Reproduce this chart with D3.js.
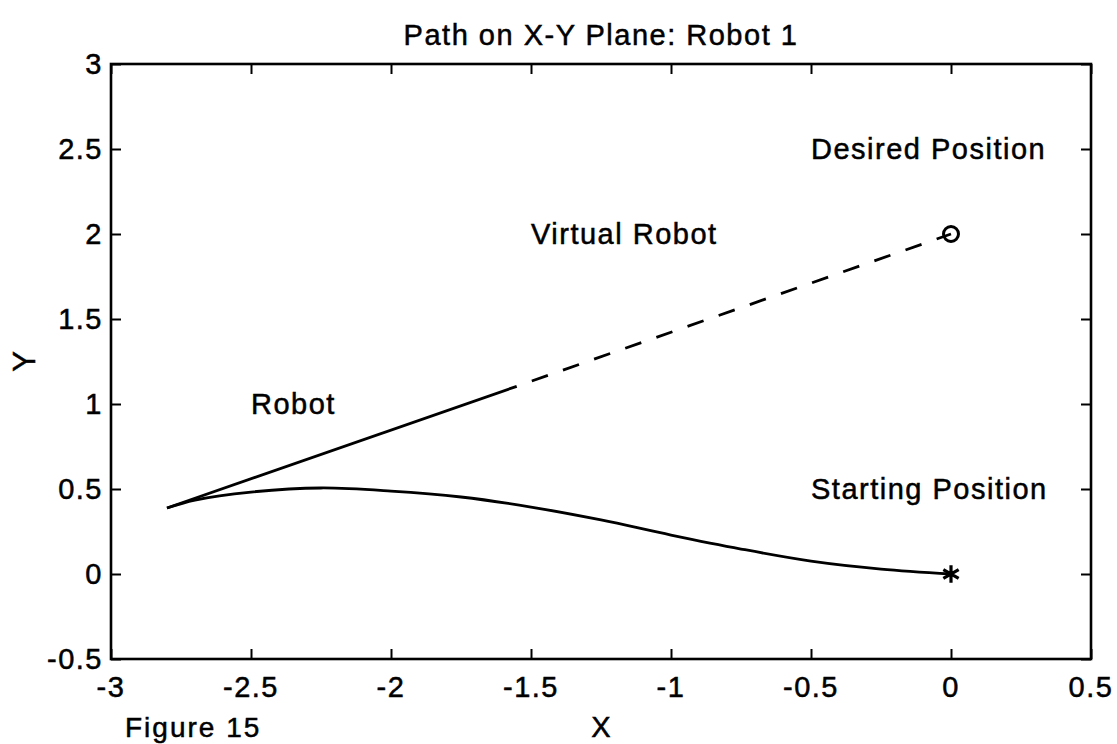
<!DOCTYPE html>
<html>
<head>
<meta charset="utf-8">
<script src="https://cdn.jsdelivr.net/npm/d3@7"></script>
<style>
  body { margin: 0; background: #fff; }
  text { font-family: "Liberation Sans", Arial, Helvetica, sans-serif; fill: #000; stroke: #000; stroke-width: 0.5px; }
</style>
</head>
<body>
<svg id="plot" width="1117" height="744"></svg>
<script>
// robot path (solid curve)
var robotX = [-2.80, -2.70, -2.50, -2.25, -2.00, -1.75, -1.50, -1.25, -1.00, -0.75, -0.50, -0.25, 0];
var robotY = [0.388, 0.435, 0.482, 0.506, 0.488, 0.453, 0.394, 0.318, 0.229, 0.147, 0.076, 0.029, 0];

// virtual robot, travelled part (solid) and remaining part (dashed)
var virtualX = [-2.80, -1.551];
var virtualY = [0.388, 1.104];
var virtualRestX = [-1.551, 0];
var virtualRestY = [1.104, 2.0];

var startPos = [0, 0];
var desiredPos = [0, 2];

var xTicks = [-3, -2.5, -2, -1.5, -1, -0.5, 0, 0.5];
var yTicks = [-0.5, 0, 0.5, 1, 1.5, 2, 2.5, 3];

var labels = [
    {x: -0.5, y: 2.5, text: "Desired Position"},
    {x: -1.5, y: 2.0, text: "Virtual Robot"},
    {x: -2.5, y: 1.0, text: "Robot"},
    {x: -0.5, y: 0.5, text: "Starting Position"}
];

function draw() {
    var svg = d3.select("#plot"),
        pl = 111, pr = 1091, pt = 64, pb = 659,
        fontSize = "29px", spacing = "1.5px";

    var x = d3.scaleLinear().domain([-3, 0.5]).range([pl, pr]);
    var y = d3.scaleLinear().domain([-0.5, 3]).range([pb, pt]);

    var fmt = function(d) { return String(d); };

    // axes, ticks pointing inward
    svg.append("g")
        .attr("transform", "translate(0," + pb + ")")
        .call(d3.axisBottom(x).tickValues(xTicks).tickSize(-10).tickFormat(""));

    svg.append("g")
        .attr("transform", "translate(0," + pt + ")")
        .call(d3.axisTop(x).tickValues(xTicks).tickSize(-10).tickFormat(""));

    svg.append("g")
        .attr("transform", "translate(" + pl + ",0)")
        .call(d3.axisLeft(y).tickValues(yTicks).tickSize(-10).tickFormat(""));

    svg.append("g")
        .attr("transform", "translate(" + pr + ",0)")
        .call(d3.axisRight(y).tickValues(yTicks).tickSize(-10).tickFormat(""));

    svg.selectAll(".domain").remove();
    svg.selectAll(".tick line").attr("stroke", "#000").attr("stroke-width", 2);

    svg.append("rect")
        .attr("x", pl).attr("y", pt)
        .attr("width", pr - pl).attr("height", pb - pt)
        .attr("fill", "none").attr("stroke", "#000").attr("stroke-width", 2.6);

    // tick labels
    svg.selectAll(".xlab")
        .data(xTicks)
        .enter().append("text")
        .attr("class", "xlab")
        .attr("x", function(d) { return x(d); })
        .attr("y", 697)
        .attr("text-anchor", "middle")
        .style("font-size", fontSize)
        .style("letter-spacing", spacing)
        .text(fmt);

    svg.selectAll(".ylab")
        .data(yTicks)
        .enter().append("text")
        .attr("class", "ylab")
        .attr("x", pl - 8)
        .attr("y", function(d) { return y(d); })
        .attr("dy", "0.36em")
        .attr("text-anchor", "end")
        .style("font-size", fontSize)
        .style("letter-spacing", spacing)
        .text(fmt);

    // title and axis labels
    svg.append("text")
        .attr("x", (pl + pr) / 2).attr("y", 45)
        .attr("text-anchor", "middle")
        .style("font-size", fontSize).style("letter-spacing", spacing)
        .text("Path on X-Y Plane: Robot 1");

    svg.append("text")
        .attr("x", (pl + pr) / 2).attr("y", 737)
        .attr("text-anchor", "middle")
        .style("font-size", fontSize)
        .text("X");

    svg.append("text")
        .attr("transform", "translate(35," + ((pt + pb) / 2) + ") rotate(-90)")
        .attr("text-anchor", "middle")
        .style("font-size", "31px")
        .text("Y");

    svg.append("text")
        .attr("x", 125).attr("y", 737)
        .style("font-size", "28px").style("letter-spacing", "2px")
        .text("Figure 15");

    // lines
    var line = d3.line()
        .x(function(d) { return x(d[0]); })
        .y(function(d) { return y(d[1]); });

    svg.append("path")
        .attr("d", line.curve(d3.curveCatmullRom)(d3.zip(robotX, robotY)))
        .attr("fill", "none").attr("stroke", "#000").attr("stroke-width", 2.8);

    line.curve(d3.curveLinear);

    svg.append("path")
        .attr("d", line(d3.zip(virtualX, virtualY)))
        .attr("fill", "none").attr("stroke", "#000").attr("stroke-width", 2.8);

    svg.append("path")
        .attr("d", line(d3.zip(virtualRestX, virtualRestY)))
        .attr("fill", "none").attr("stroke", "#000").attr("stroke-width", 2.8)
        .attr("stroke-dasharray", "17,16")
        .attr("stroke-dashoffset", 17);

    // markers
    svg.append("circle")
        .attr("cx", x(desiredPos[0])).attr("cy", y(desiredPos[1]))
        .attr("r", 7.5)
        .attr("fill", "none").attr("stroke", "#000").attr("stroke-width", 3);

    var star = d3.symbolAsterisk ? d3.symbol(d3.symbolAsterisk, 220)() :
        "M0,-9V9M-9,0H9M-6.4,-6.4L6.4,6.4M-6.4,6.4L6.4,-6.4";
    svg.append("path")
        .attr("transform", "translate(" + x(startPos[0]) + "," + y(startPos[1]) + ")")
        .attr("d", star)
        .attr("fill", "none").attr("stroke", "#000").attr("stroke-width", 3.2);

    // annotations
    svg.selectAll(".note")
        .data(labels)
        .enter().append("text")
        .attr("class", "note")
        .attr("x", function(d) { return x(d.x); })
        .attr("y", function(d) { return y(d.y); })
        .attr("dy", "0.36em")
        .style("font-size", fontSize)
        .style("letter-spacing", spacing)
        .text(function(d) { return d.text; });
}

draw();
</script>
</body>
</html>
